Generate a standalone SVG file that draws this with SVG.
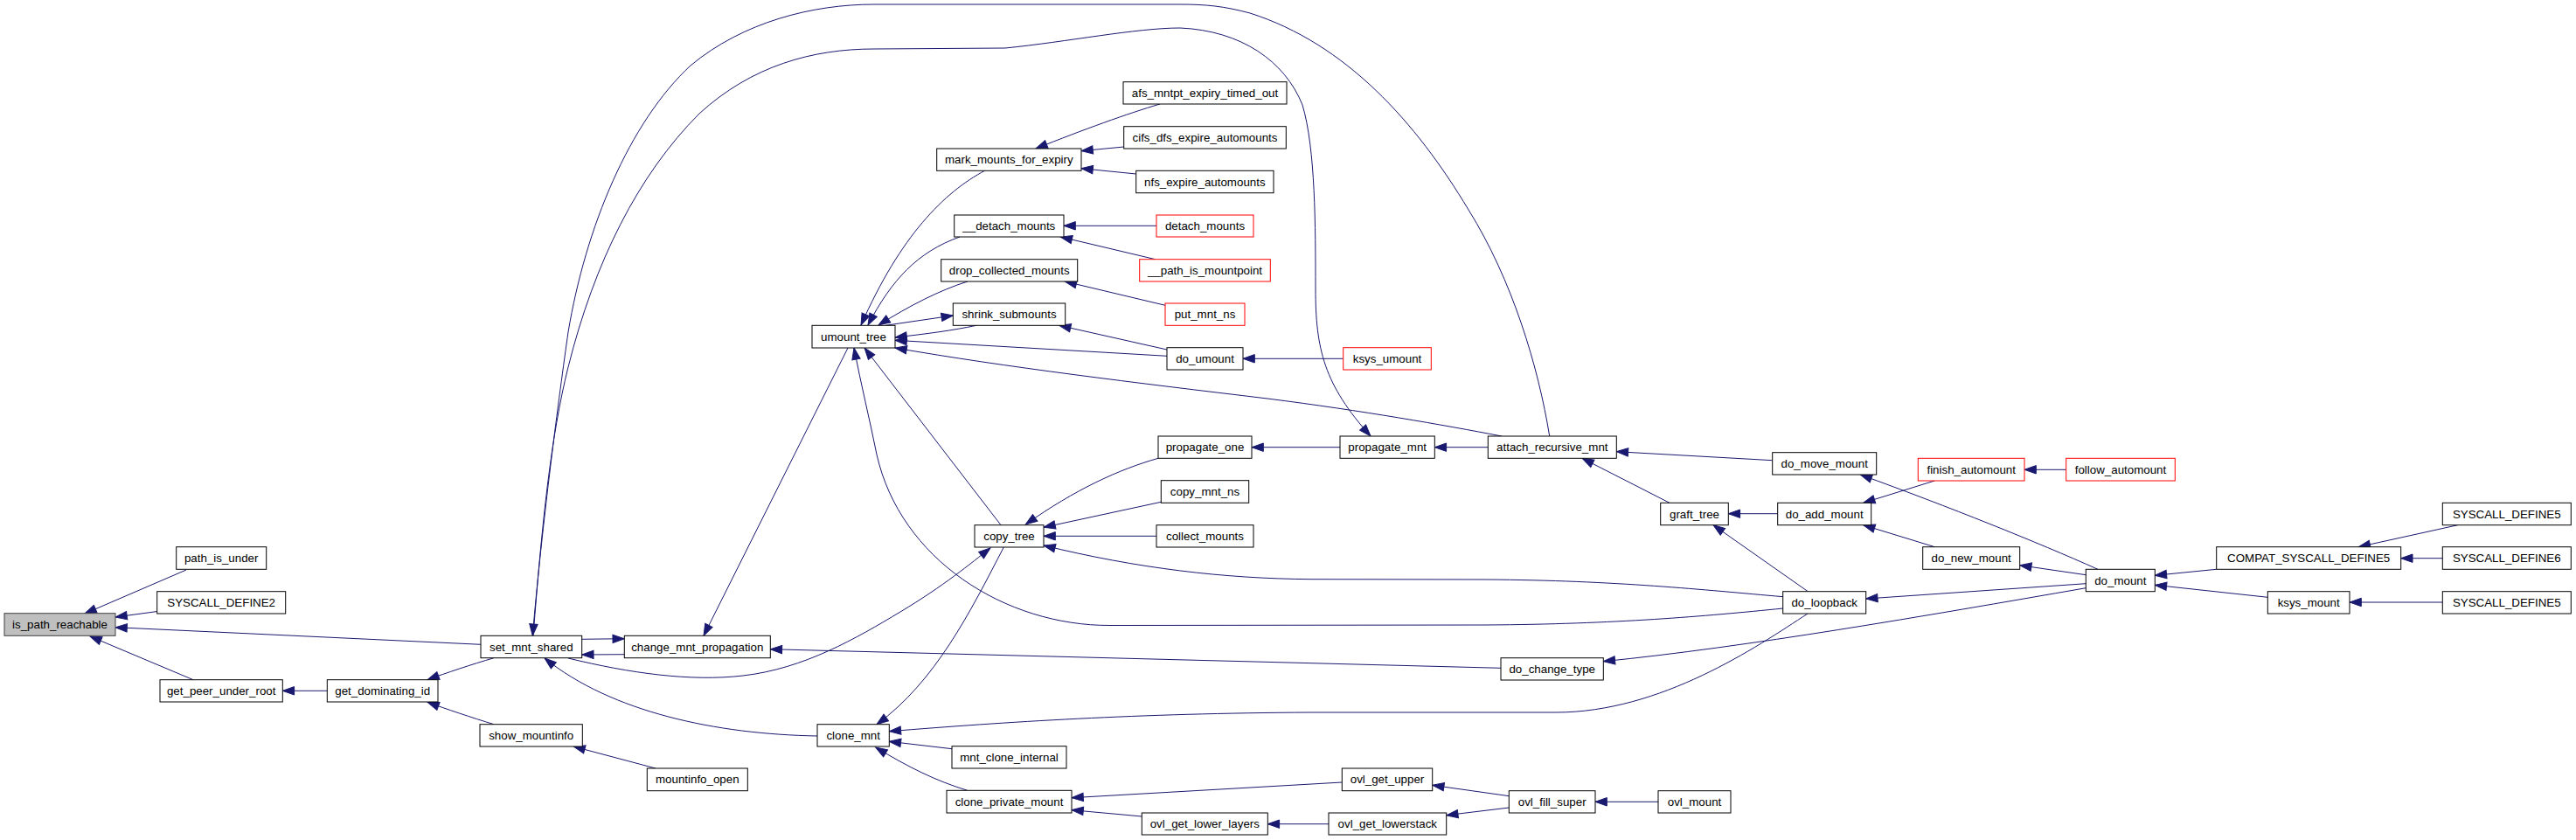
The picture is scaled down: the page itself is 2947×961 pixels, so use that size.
<svg xmlns="http://www.w3.org/2000/svg" width="2947" height="961" viewBox="0 0 2947 961">
<style>
.n rect{fill:#fff;stroke:#000;stroke-width:1}
.n.r rect{stroke:#ff0000}
.n.g rect{fill:#bfbfbf;stroke:#404040}
.n text{font-family:"Liberation Sans",Arial,sans-serif;font-size:13.33px;text-anchor:middle;fill:#000}
#edges path{fill:none;stroke:#191970;stroke-width:1;marker-end:url(#ah)}
#edges path.na{marker-end:none}
</style>
<defs>
<marker id="ah" markerUnits="userSpaceOnUse" viewBox="0 0 13.3 9.4" markerWidth="13.3" markerHeight="9.4" refX="13.3" refY="4.7" orient="auto" overflow="visible">
<path d="M0,0 L13.3,4.7 L0,9.4 z" fill="#191970" stroke="#191970" stroke-width="1"/>
</marker>
</defs>
<rect x="0" y="0" width="2947" height="961" fill="#fff"/>
<g id="edges">
<path d="M213,652 L97,702"/>
<path d="M180,699.5 L132,706"/>
<path d="M550,737.3 L132,717.7"/>
<path d="M221,777.7 L103,728"/>
<path d="M374.3,790.3 L323.3,790.3"/>
<path d="M565,752.7 C540,760 510,770 489,777.7"/>
<path d="M565,828.7 C540,821 510,811 489,803.3"/>
<path d="M750,879 L656,854"/>
<path d="M665.7,731.3 L714.3,730.7"/>
<path d="M714.3,748.7 L665.7,749"/>
<path d="M970,398 L805,727.3"/>
<path d="M1717,764.3 L881.3,742.7"/>
<path d="M650,753 C720,770 790,780 850,773 C920,765 980,730 1030,700 C1080,670 1110,645 1133,627"/>
<path d="M935,842 C820,840 700,815 623,753"/>
<path d="M1127,195 C1080,220 1030,270 985,372"/>
<path d="M1098,271 C1050,288 1020,320 993,372"/>
<path d="M1107,322 C1075,332 1040,350 1005,372"/>
<path d="M1013,372.3 L1090.3,361"/>
<path d="M1117,372.3 C1090,378 1060,382 1024,386"/>
<path d="M1335,407.3 L1024,389.3"/>
<path d="M1718,499 C1650,486 1560,470 1450,456 C1300,438 1150,420 1024,398"/>
<path d="M1145,600.7 L989,398"/>
<path d="M2040,696 C1950,705 1850,714 1700,715 L1270,715.5 C1150,716 1030,640 1003,520 C995,480 985,440 977,398"/>
<path d="M1327,119 C1290,130 1240,148 1185,170"/>
<path d="M1285.7,168 L1237,172.7"/>
<path d="M1299.7,199 L1237,192.7"/>
<path d="M1323,258.3 L1217,258.3"/>
<path d="M1321.7,296.7 L1213.3,271"/>
<path d="M1333,349.3 L1218.3,322"/>
<path d="M1335,400 L1211.7,372.3"/>
<path d="M1536.7,410.3 L1422,410.3"/>
<path d="M1325,524.3 C1280,537 1230,560 1173.3,600"/>
<path d="M1328.3,574.3 L1194,603.3"/>
<path d="M1323,613.3 L1194,613.3"/>
<path d="M2040,682.7 C1950,675 1850,664 1700,663 L1500,662.7 C1400,662 1300,650 1194,624"/>
<path d="M1148.3,626 C1110,700 1070,780 1003,828.7"/>
<path d="M2068,702 C2010,740 1900,815 1780,815 L1500,815 C1300,816 1150,826 1017.3,836.7"/>
<path d="M1089,856.7 L1017.3,848.3"/>
<path d="M1106.7,904.3 C1070,893 1040,878 1001.7,855"/>
<path d="M1535.3,895 L1226,912.7"/>
<path d="M1306.3,934 L1226,926.7"/>
<path d="M1520,942.7 L1450.3,942.7"/>
<path d="M1533,511.7 L1432,511.7"/>
<path d="M1702.3,511.7 L1641.3,511.7"/>
<path d="M2027.7,526.7 L1849.3,516.7"/>
<path d="M1910,575.3 L1810,524.3"/>
<path d="M2033.7,587.7 L1977.3,587.7"/>
<path d="M2068.3,676.7 L1960,600.7"/>
<path d="M2386.3,672.7 C2200,705 2000,740 1834.3,756.7"/>
<path d="M1726.3,910.7 L1638.7,898.3"/>
<path d="M1726.3,924 L1654.7,932.7"/>
<path d="M1897,917.3 L1825,917.3"/>
<path d="M2400,651.3 C2330,620 2230,580 2128.3,543"/>
<path d="M2213.3,550 L2131.7,575.3"/>
<path d="M2363.7,537.3 L2316,537.3"/>
<path d="M2213.3,625.7 L2131.7,600.7"/>
<path d="M2386.3,657.7 L2310.7,646.7"/>
<path d="M2386.3,667.7 L2134.7,685"/>
<path d="M2535.7,651.3 L2465.3,658.3"/>
<path d="M2594.3,683.3 L2465.3,669.3"/>
<path d="M2811.7,600.7 L2698.3,625.7"/>
<path d="M2794.3,638.7 L2746.7,638.7"/>
<path d="M2794.3,689 L2688,689"/>
<path d="M1772.7,499 C1760,420 1730,320 1680,240 C1620,140 1540,50 1430,15 C1400,7 1380,5 1350,5 L1000,5 C930,5 850,25 790,75 C720,140 670,260 650,380 C640,450 620,600 609.3,727.3"/>
<path d="M610,727.3 C620,600 630,500 650,420 C680,300 730,200 800,130 C860,75 930,56 1000,56 L1150,55 C1220,48 1300,32 1350,32 C1420,35 1470,70 1490,120 C1505,170 1505,260 1505,330 C1505,400 1515,440 1568,499"/>
</g>
<g id="n1" class="n g"><rect x="5" y="701.7" width="127" height="25.6"/><text x="68.5" y="719">is_path_reachable</text></g>
<g id="n2" class="n"><rect x="201.7" y="625.7" width="103" height="25.6"/><text x="253.2" y="643">path_is_under</text></g>
<g id="n3" class="n"><rect x="179.7" y="676.7" width="147" height="25.3"/><text x="253.2" y="693.8">SYSCALL_DEFINE2</text></g>
<g id="n4" class="n"><rect x="183" y="777.7" width="140.3" height="25.3"/><text x="253.2" y="794.8">get_peer_under_root</text></g>
<g id="n5" class="n"><rect x="374.3" y="777.7" width="126.7" height="25.3"/><text x="437.7" y="794.8">get_dominating_id</text></g>
<g id="n6" class="n"><rect x="550" y="727.3" width="115.7" height="25.4"/><text x="607.8" y="744.5">set_mnt_shared</text></g>
<g id="n7" class="n"><rect x="549" y="828.7" width="117.3" height="25.3"/><text x="607.7" y="845.8">show_mountinfo</text></g>
<g id="n8" class="n"><rect x="714.3" y="727.3" width="167" height="25.4"/><text x="797.8" y="744.5">change_mnt_propagation</text></g>
<g id="n9" class="n"><rect x="740.3" y="879" width="115" height="25.7"/><text x="797.8" y="896.3">mountinfo_open</text></g>
<g id="n10" class="n"><rect x="929" y="372.3" width="95" height="25.7"/><text x="976.5" y="389.7">umount_tree</text></g>
<g id="n11" class="n"><rect x="935" y="828.7" width="82.3" height="25.3"/><text x="976.2" y="845.8">clone_mnt</text></g>
<g id="n12" class="n"><rect x="1071.7" y="170" width="165.3" height="25.3"/><text x="1154.3" y="187.2">mark_mounts_for_expiry</text></g>
<g id="n13" class="n"><rect x="1091.7" y="246" width="125.3" height="25"/><text x="1154.3" y="263">__detach_mounts</text></g>
<g id="n14" class="n"><rect x="1076.7" y="296.7" width="156" height="25.3"/><text x="1154.7" y="313.8">drop_collected_mounts</text></g>
<g id="n15" class="n"><rect x="1090.3" y="347" width="128.4" height="25.3"/><text x="1154.5" y="364.2">shrink_submounts</text></g>
<g id="n16" class="n"><rect x="1115" y="600.7" width="79" height="25.3"/><text x="1154.5" y="617.8">copy_tree</text></g>
<g id="n17" class="n"><rect x="1089" y="853.7" width="131" height="25.3"/><text x="1154.5" y="870.8">mnt_clone_internal</text></g>
<g id="n18" class="n"><rect x="1083" y="904.3" width="143" height="25.7"/><text x="1154.5" y="921.7">clone_private_mount</text></g>
<g id="n19" class="n"><rect x="1285" y="93.7" width="187" height="25.3"/><text x="1378.5" y="110.8">afs_mntpt_expiry_timed_out</text></g>
<g id="n20" class="n"><rect x="1285.7" y="144.7" width="185.6" height="25.3"/><text x="1378.5" y="161.8">cifs_dfs_expire_automounts</text></g>
<g id="n21" class="n"><rect x="1299.7" y="195.3" width="157.3" height="25.4"/><text x="1378.3" y="212.5">nfs_expire_automounts</text></g>
<g id="n22" class="n r"><rect x="1323" y="246" width="111" height="25"/><text x="1378.5" y="263">detach_mounts</text></g>
<g id="n23" class="n r"><rect x="1303.7" y="296.7" width="149.6" height="25.3"/><text x="1378.5" y="313.8">__path_is_mountpoint</text></g>
<g id="n24" class="n r"><rect x="1333" y="347" width="91" height="25.3"/><text x="1378.5" y="364.2">put_mnt_ns</text></g>
<g id="n25" class="n"><rect x="1335" y="397.7" width="87" height="25.3"/><text x="1378.5" y="414.8">do_umount</text></g>
<g id="n26" class="n"><rect x="1325" y="499" width="107" height="25.3"/><text x="1378.5" y="516.2">propagate_one</text></g>
<g id="n27" class="n"><rect x="1328.3" y="549.7" width="100.4" height="25.6"/><text x="1378.5" y="567">copy_mnt_ns</text></g>
<g id="n28" class="n"><rect x="1323" y="600.7" width="111" height="25.3"/><text x="1378.5" y="617.8">collect_mounts</text></g>
<g id="n29" class="n"><rect x="1306.3" y="930" width="144" height="25"/><text x="1378.3" y="947">ovl_get_lower_layers</text></g>
<g id="n30" class="n r"><rect x="1536.7" y="397.7" width="100.6" height="25.3"/><text x="1587" y="414.8">ksys_umount</text></g>
<g id="n31" class="n"><rect x="1533" y="499" width="108.3" height="25.3"/><text x="1587.2" y="516.2">propagate_mnt</text></g>
<g id="n32" class="n"><rect x="1535.3" y="879" width="103.4" height="25.7"/><text x="1587" y="896.3">ovl_get_upper</text></g>
<g id="n33" class="n"><rect x="1520" y="930" width="134.7" height="25"/><text x="1587.3" y="947">ovl_get_lowerstack</text></g>
<g id="n34" class="n"><rect x="1702.3" y="499" width="147" height="25.3"/><text x="1775.8" y="516.2">attach_recursive_mnt</text></g>
<g id="n35" class="n"><rect x="1717" y="752.7" width="117.3" height="25.3"/><text x="1775.7" y="769.8">do_change_type</text></g>
<g id="n36" class="n"><rect x="1726.3" y="904.7" width="98.7" height="25.3"/><text x="1775.7" y="921.8">ovl_fill_super</text></g>
<g id="n37" class="n"><rect x="1899.7" y="575.3" width="77.6" height="25.4"/><text x="1938.5" y="592.5">graft_tree</text></g>
<g id="n38" class="n"><rect x="1897" y="904.7" width="83" height="25.3"/><text x="1938.5" y="921.8">ovl_mount</text></g>
<g id="n39" class="n"><rect x="2027.7" y="517.7" width="119" height="25.3"/><text x="2087.2" y="534.8">do_move_mount</text></g>
<g id="n40" class="n"><rect x="2033.7" y="575.3" width="107" height="25.4"/><text x="2087.2" y="592.5">do_add_mount</text></g>
<g id="n41" class="n"><rect x="2039.7" y="676.7" width="95" height="25.3"/><text x="2087.2" y="693.8">do_loopback</text></g>
<g id="n42" class="n r"><rect x="2194.3" y="524.3" width="121.7" height="25.7"/><text x="2255.2" y="541.7">finish_automount</text></g>
<g id="n43" class="n"><rect x="2199.7" y="625.7" width="111" height="25.6"/><text x="2255.2" y="643">do_new_mount</text></g>
<g id="n44" class="n r"><rect x="2363.7" y="524.3" width="124.6" height="25.7"/><text x="2426" y="541.7">follow_automount</text></g>
<g id="n45" class="n"><rect x="2386.3" y="651.3" width="79" height="25.4"/><text x="2425.8" y="668.5">do_mount</text></g>
<g id="n46" class="n"><rect x="2535.7" y="625.7" width="211" height="25.6"/><text x="2641.2" y="643">COMPAT_SYSCALL_DEFINE5</text></g>
<g id="n47" class="n"><rect x="2594.3" y="676.7" width="93.7" height="25.3"/><text x="2641.2" y="693.8">ksys_mount</text></g>
<g id="n48" class="n"><rect x="2794.3" y="575.3" width="147" height="25.4"/><text x="2867.8" y="592.5">SYSCALL_DEFINE5</text></g>
<g id="n49" class="n"><rect x="2794.3" y="625.7" width="147" height="25.6"/><text x="2867.8" y="643">SYSCALL_DEFINE6</text></g>
<g id="n50" class="n"><rect x="2794.3" y="676.7" width="147" height="25.3"/><text x="2867.8" y="693.8">SYSCALL_DEFINE5</text></g>
</svg>
